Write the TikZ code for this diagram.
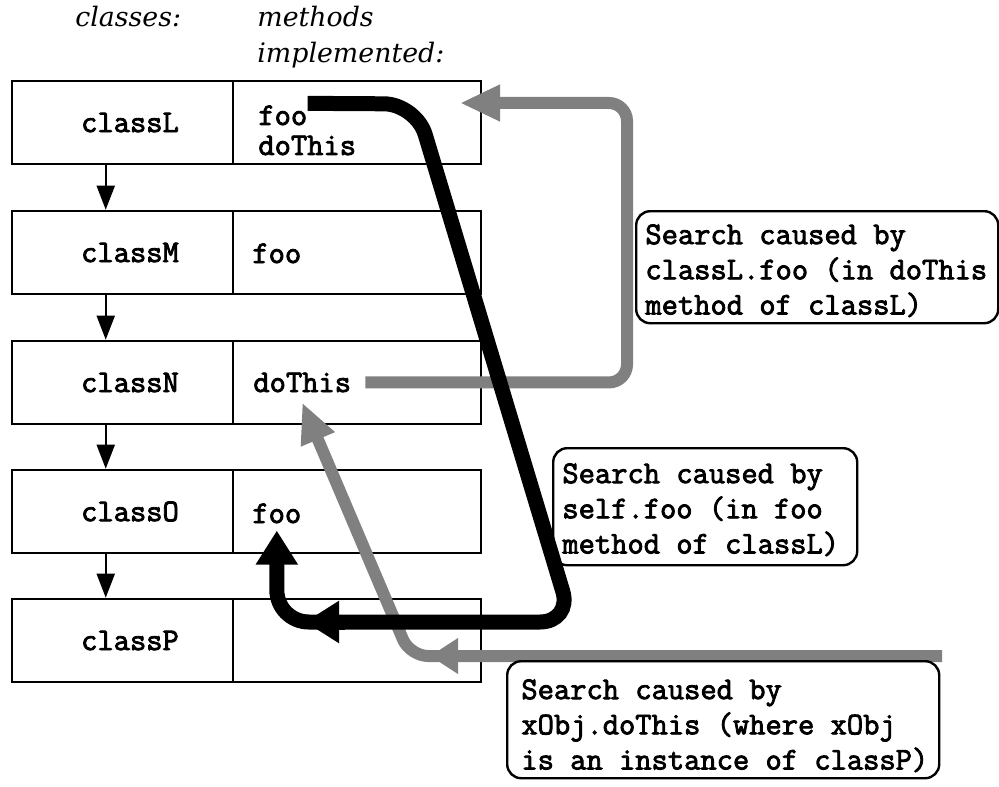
\documentclass[tikz,border=0pt]{standalone}
\usepackage{fontspec}
\usetikzlibrary{arrows.meta,calc}
\newfontfamily\lblfamily{Latin Modern Mono}[FakeBold=2.6]
\newfontfamily\headfamily{DejaVu Serif}
\newcommand\lblstyle{\lblfamily\fontsize{15.8}{17.6}\selectfont}
\newcommand\headstyle{\headfamily\itshape\fontsize{13.4}{16}\selectfont}

\begin{document}
\begin{tikzpicture}[x=0.5pt,y=-0.5pt,
  leftcell/.style={draw, line width=1.3pt, minimum width=110.5pt, minimum height=41.5pt, inner sep=0pt},
  rightcell/.style={draw, line width=1.3pt, minimum width=124pt, minimum height=41.5pt, inner sep=0pt},
  cname/.style={inner sep=0pt, font=\lblstyle},
  mtext/.style={anchor=base west, inner sep=0pt, font=\lblstyle},
  hdr/.style={anchor=base west, inner sep=0pt, font=\headstyle},
  link/.style={line width=1pt, -{Triangle[length=12pt,width=9pt]}},
  callout/.style={draw, line width=1.2pt, rounded corners=7pt, anchor=north west, inner sep=0pt},
  note/.style={anchor=north west, inner sep=0pt, align=left, font=\lblstyle},
  grayline/.style={line width=6pt, draw=black!50, rounded corners=9pt},
  graytip/.style={-{Triangle[length=20pt,width=17pt]}},
  blackline/.style={line width=7.5pt, draw=black, rounded corners=16pt},
  blacktip/.style={-{Triangle[length=17pt,width=20pt]}}
]
\fill[white] (0,0) rectangle (999,786);
\useasboundingbox (0,0) rectangle (999,786);

% column headers
\node[hdr] (hc) at (75,27) {classes:};
\node[hdr] (hm1) at (257,27) {methods};
\node[hdr] (hm2) at (257,63) {implemented:};

% class table
\foreach \n/\y in {L/122.5, M/252.5, N/382.5, O/511.5, P/640.5} {
  \node[leftcell] (c\n) at (122.5,\y) {};
  \node[rightcell] (r\n) at (357,\y) {};
  \node[cname] (n\n) at (130,\y) {class\n};
}

% superclass links
\foreach \a/\b in {cL/cM, cM/cN, cN/cO, cO/cP}
  \draw[link] ($(\a.south west)!0.425!(\a.south east)$) -- ($(\b.north west)!0.425!(\b.north east)$);

% implemented methods
\node[mtext] (mLfoo) at (258,125) {foo};
\node[mtext] (mLdo) at (258,155) {doThis};
\node[mtext] (mMfoo) at (252,263) {foo};
\node[mtext] (mNdo) at (253,392) {doThis};
\node[mtext] (mOfoo) at (252,523) {foo};

% callout boxes
\node[callout, minimum width=181pt, minimum height=56pt] (cb1) at (635,210) {};
\node[note] (t1) at (645,224) {Search caused by\\classL.foo (in doThis\\method of classL)};
\node[callout, minimum width=152pt, minimum height=58.5pt] (cb2) at (552,447) {};
\node[note] (t2) at (562,463) {Search caused by\\self.foo (in foo\\method of classL)};

% search started by classL.foo
\coordinate (g1corner) at (627,103);
\coordinate (g1end) at (460,103);
\draw[grayline, graytip] ([xshift=7pt]mNdo.east) -| (g1corner) -- (g1end);

% search started by xObj.doThis
\coordinate (g2bend) at (410,656);
\draw[grayline, graytip] (942,656) -- (g2bend) -- ([yshift=-5pt]mNdo.south);
\draw[line width=6pt, draw=black!50, -{Triangle[length=14pt,width=17pt]}] (462,656) -- (430,656);

\node[callout, minimum width=216pt, minimum height=58.5pt] (cb3) at (506,660) {};
\node[note] (t3) at (521,679) {Search caused by\\xObj.doThis (where xObj\\is an instance of classP)};

% search started by self.foo
\draw[blackline, blacktip] ([yshift=6pt]mLfoo.east) -- (416,104) -- (572,622) -| ([yshift=-3.5pt]mOfoo.south);
\draw[line width=7.5pt, blacktip] (345,622) -- (305,622);
\end{tikzpicture}
\end{document}
